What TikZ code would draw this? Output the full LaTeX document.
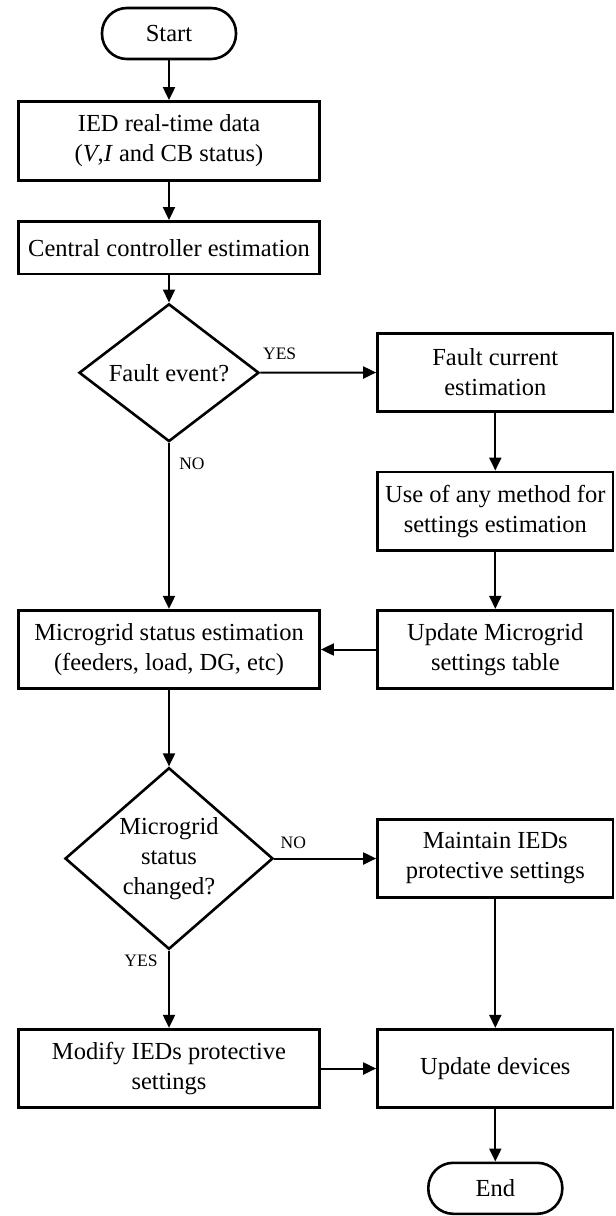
\documentclass[tikz,border=0pt]{standalone}
\usepackage{fontspec}
\setmainfont{Liberation Serif}
\usetikzlibrary{arrows.meta,shapes.geometric}
\begin{document}
\begin{tikzpicture}[x=1pt,y=-1pt,
  mainfont/.style={font=\fontsize{24.5}{30}\selectfont},
  box/.style={draw, line width=2.8pt, rectangle, inner sep=0pt, align=center, mainfont},
  lbox/.style={box, minimum width=301pt},
  rbox/.style={box, minimum width=235.5pt},
  term/.style={draw, line width=2.6pt, rectangle, rounded corners=25pt, minimum width=134pt, minimum height=51pt, inner sep=0pt, mainfont},
  dec/.style={draw, line width=2.6pt, diamond, inner sep=0pt, align=center, mainfont},
  arr/.style={line width=2pt, -{Triangle[length=13pt,width=12pt]}},
  lbl/.style={inner sep=0pt, font=\fontsize{17.5}{20}\selectfont}]
\path[use as bounding box, fill=white] (0,0) rectangle (616,1216);

\node[term] (start) at (169,33.5) {Start};
\node[lbox, minimum height=79pt] (ied) at (169,141) {IED real-time data\\(\textit{V},\textit{I} and CB status)};
\node[lbox, minimum height=52.5pt] (cce) at (169,247.7) {Central controller estimation};
\node[dec, minimum width=180pt, minimum height=113pt] (d1) at (169,372.7) {Fault event?};
\node[rbox, minimum height=78.5pt] (fce) at (495.3,372.5) {Fault current\\estimation};
\node[rbox, minimum height=78.5pt] (use) at (495.3,511.2) {Use of any method for\\settings estimation};
\node[lbox, minimum height=78.5pt] (msb) at (169,649.5) {Microgrid status estimation\\(feeders, load, DG, etc)};
\node[rbox, minimum height=78.5pt] (umst) at (495.3,649.5) {Update Microgrid\\settings table};
\node[dec, minimum width=208pt, minimum height=168pt] (d2) at (169,858.5) {Microgrid\\status\\changed?};
\node[rbox, minimum height=78.5pt] (maint) at (495.3,858.5) {Maintain IEDs\\protective settings};
\node[lbox, minimum height=78.5pt] (mod) at (169,1068.5) {Modify IEDs protective\\settings};
\node[rbox, minimum height=78.5pt] (upd) at (495.3,1068.5) {Update devices};
\node[term] (end) at (495.3,1188.3) {End};

\draw[arr] (start) -- (ied);
\draw[arr] (ied) -- (cce);
\draw[arr] (cce) -- (d1);
\draw[arr] (d1.east) -- node[lbl, at start, xshift=19.4pt, yshift=19pt] {YES} (fce.west);
\draw[arr] (d1.south) -- node[lbl, at start, xshift=23pt, yshift=-20.5pt] {NO} (msb.north);
\draw[arr] (fce) -- (use);
\draw[arr] (use) -- (umst);
\draw[arr] (umst.west) -- (msb.east);
\draw[arr] (msb) -- (d2);
\draw[arr] (d2.east) -- node[lbl, at start, xshift=19pt, yshift=16pt] {NO} (maint.west);
\draw[arr] (d2.south) -- node[lbl, at start, xshift=-28pt, yshift=-10.5pt] {YES} (mod.north);
\draw[arr] (maint) -- (upd);
\draw[arr] (mod.east) -- (upd.west);
\draw[arr] (upd) -- (end);
\end{tikzpicture}
\end{document}
